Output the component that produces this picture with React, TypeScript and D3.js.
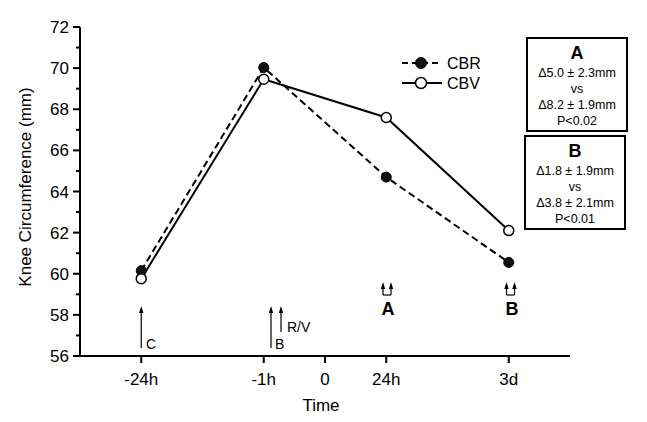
import React from "react";
import * as d3 from "d3";

const timeTicks = [-3, -1, 0, 1, 3];
const timeLabels = ["-24h", "-1h", "0", "24h", "3d"];
const pointTimes = [-3, -1, 1, 3];
const cbr = [60.15, 70.03, 64.7, 60.55];
const cbv = [59.76, 69.46, 67.6, 62.1];
const yMajor = [56, 58, 60, 62, 64, 66, 68, 70, 72];
const yMinor = [57, 59, 61, 63, 65, 67, 69, 71];
const boxA = ["Δ5.0 ± 2.3mm", "vs", "Δ8.2 ± 1.9mm", "P<0.02"];
const boxB = ["Δ1.8 ± 1.9mm", "vs", "Δ3.8 ± 2.1mm", "P<0.01"];

const FONT = "'Liberation Sans', Arial, Helvetica, sans-serif";

export default function App() {
  const W = 647, H = 422;
  const x = d3.scaleLinear().domain([-4, 4]).range([80, 570]);
  const y = d3.scaleLinear().domain([56, 72]).range([356, 27]);
  const line = d3.line<number>().x((_, i) => x(pointTimes[i])).y((d) => y(d));
  const y0 = y(56);

  const arrowUp = (ax: number, top: number, bottom: number, key: string) => (
    <g key={key}>
      <line x1={ax} x2={ax} y1={top + 5} y2={bottom} stroke="#000" strokeWidth={1.2} />
      <path d={`M${ax - 2.2},${top + 7} L${ax},${top} L${ax + 2.2},${top + 7} Z`} fill="#000" />
    </g>
  );

  const doubleArrow = (cx: number, key: string) => {
    const l = cx - 4, r = cx + 4, top = 282, bot = 295;
    return (
      <g key={key}>
        {arrowUp(l, top, bot, key + "l")}
        {arrowUp(r, top, bot, key + "r")}
        <line x1={l} x2={r} y1={bot} y2={bot} stroke="#000" strokeWidth={1.2} />
      </g>
    );
  };

  const box = (bx: number, by: number, title: string, lines: string[]) => (
    <g>
      <rect x={bx} y={by} width={100} height={93} fill="#fff" stroke="#000" strokeWidth={2} />
      <text x={bx + 50} y={by + 21} textAnchor="middle" fontSize={18} fontWeight="bold">{title}</text>
      {lines.map((t, i) => (
        <text key={i} x={bx + 50} y={by + 39 + i * 16} textAnchor="middle" fontSize={12.5}>{t}</text>
      ))}
    </g>
  );

  return (
    <svg width={W} height={H} style={{ position: "absolute", left: 0, top: 0, background: "#fff" }} fontFamily={FONT}>
      <rect width={W} height={H} fill="#fff" />
      {/* axes */}
      <line x1={80} x2={80} y1={y(72)} y2={y0 + 1} stroke="#000" strokeWidth={2} />
      <line x1={79} x2={570} y1={y0} y2={y0} stroke="#000" strokeWidth={2} />
      {yMajor.map((v) => (
        <g key={v}>
          <line x1={73} x2={80} y1={y(v)} y2={y(v)} stroke="#000" strokeWidth={2} />
          <text x={69} y={y(v) + 6} textAnchor="end" fontSize={17}>{v}</text>
        </g>
      ))}
      {yMinor.map((v) => (
        <line key={v} x1={76} x2={80} y1={y(v)} y2={y(v)} stroke="#000" strokeWidth={2} />
      ))}
      {timeTicks.map((t, i) => (
        <g key={t}>
          <line x1={x(t)} x2={x(t)} y1={y0} y2={y0 + 7} stroke="#000" strokeWidth={2} />
          <text x={x(t)} y={385} textAnchor="middle" fontSize={17}>{timeLabels[i]}</text>
        </g>
      ))}
      <text x={321} y={411} textAnchor="middle" fontSize={17}>Time</text>
      <text transform="translate(31,187) rotate(-90)" textAnchor="middle" fontSize={17}>Knee Circumference (mm)</text>

      {/* series */}
      <path d={line(cbr) || ""} fill="none" stroke="#000" strokeWidth={2} strokeDasharray="7,4" />
      <path d={line(cbv) || ""} fill="none" stroke="#000" strokeWidth={2} />
      {cbr.map((v, i) => (
        <circle key={"r" + i} cx={x(pointTimes[i])} cy={y(v)} r={5} fill="#111" stroke="#000" strokeWidth={1} />
      ))}
      {cbv.map((v, i) => (
        <circle key={"v" + i} cx={x(pointTimes[i])} cy={y(v)} r={5} fill="#fff" stroke="#000" strokeWidth={1.5} />
      ))}

      {/* legend */}
      <line x1={402} x2={442} y1={63} y2={63} stroke="#000" strokeWidth={2.2} strokeDasharray="6,4" />
      <circle cx={421} cy={63} r={5.5} fill="#111" stroke="#000" />
      <text x={447} y={69} fontSize={16}>CBR</text>
      <line x1={402} x2={442} y1={83} y2={83} stroke="#000" strokeWidth={2.2} />
      <circle cx={421} cy={83} r={5.5} fill="#fff" stroke="#000" strokeWidth={1.5} />
      <text x={447} y={89} fontSize={16}>CBV</text>

      {/* event arrows */}
      {arrowUp(x(-3), 306, 348, "c")}
      <text x={146} y={349} fontSize={14}>C</text>
      {arrowUp(271, 306, 348, "b")}
      <text x={275} y={349} fontSize={14}>B</text>
      {arrowUp(281, 306, 332, "rv")}
      <text x={287} y={332} fontSize={14}>R/V</text>

      {doubleArrow(387, "A")}
      <text x={388} y={315} textAnchor="middle" fontSize={18} fontWeight="bold">A</text>
      {doubleArrow(510.5, "B")}
      <text x={512} y={315} textAnchor="middle" fontSize={18} fontWeight="bold">B</text>

      {box(527, 38, "A", boxA)}
      {box(525, 136, "B", boxB)}
    </svg>
  );
}
